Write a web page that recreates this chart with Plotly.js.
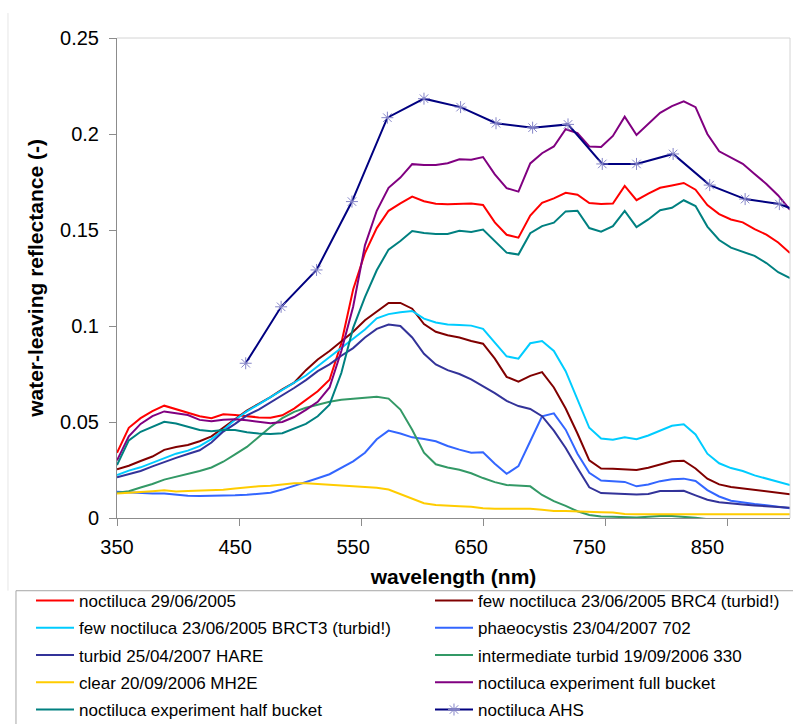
<!DOCTYPE html>
<html>
<head>
<meta charset="utf-8">
<script src="https://cdn.plot.ly/plotly-3.0.1.min.js"></script>
<style>html,body{margin:0;padding:0;background:#fff;overflow:hidden;}#chart{width:793px;height:724px;}</style>
</head>
<body>
<div id="chart"></div>
<script>
// wavelength grid (nm)
const wavelength = [350,360,370,380,390,400,410,420,430,440,450,460,470,480,490,500,510,520,530,540,
  550,560,570,580,590,600,610,620,630,640,650,660,670,680,690,700,710,720,730,740,
  750,760,770,780,790,800,810,820,830,840,850,860,870,880,890,900,910,920];

const noctiluca2906 = [0.034,0.047,0.052,0.0557,0.0585,0.0567,0.055,0.053,0.052,0.054,
  0.0536,0.053,0.0524,0.0522,0.0535,0.057,0.0616,0.066,0.072,0.091,
  0.119,0.138,0.151,0.160,0.1639,0.1674,0.165,0.1637,0.1634,0.1637,
  0.1638,0.163,0.154,0.1475,0.146,0.1575,0.1641,0.1665,0.1694,0.1684,
  0.164,0.1635,0.1638,0.173,0.1655,0.169,0.172,0.1732,0.1745,0.171,
  0.163,0.1583,0.1555,0.154,0.1505,0.1476,0.1435,0.138];

const fewBRC4 = [0.0254,0.0272,0.0297,0.032,0.0355,0.037,0.038,0.040,0.0425,0.047,
  0.0516,0.056,0.0595,0.063,0.067,0.0705,0.077,0.0826,0.087,0.092,
  0.097,0.103,0.1075,0.112,0.112,0.109,0.101,0.097,0.0952,0.094,
  0.0922,0.0908,0.083,0.0735,0.071,0.074,0.076,0.068,0.057,0.044,
  0.030,0.0258,0.0257,0.0255,0.025,0.0262,0.028,0.0295,0.0298,0.0258,
  0.0205,0.0175,0.0162,0.0154,0.0148,0.014,0.0133,0.0123];

const fewBRCT3 = [0.0224,0.0247,0.0264,0.0288,0.0315,0.0335,0.0351,0.0374,0.0411,0.0458,
  0.0512,0.0555,0.0592,0.063,0.0667,0.0704,0.0742,0.079,0.0837,0.0883,
  0.0934,0.0982,0.104,0.1062,0.1072,0.1078,0.1038,0.1018,0.1008,0.1005,
  0.1002,0.0985,0.0915,0.0842,0.083,0.091,0.0922,0.087,0.0765,0.062,
  0.047,0.0414,0.0408,0.042,0.041,0.043,0.0455,0.048,0.0488,0.0435,
  0.0335,0.0285,0.026,0.0245,0.0222,0.0205,0.019,0.0172];

const phaeocystis = [0.0137,0.0133,0.013,0.0128,0.0128,0.0122,0.0116,0.0115,0.0115,0.0116,
  0.0118,0.0121,0.0126,0.0132,0.0148,0.0167,0.0185,0.0207,0.0228,0.026,
  0.0295,0.034,0.041,0.0455,0.044,0.042,0.0412,0.040,0.0375,0.0356,
  0.034,0.0342,0.0283,0.023,0.027,0.040,0.053,0.0545,0.046,0.0335,
  0.0235,0.0195,0.019,0.0188,0.0165,0.0175,0.0192,0.0202,0.0205,0.0193,
  0.0145,0.0112,0.009,0.008,0.0073,0.0066,0.0058,0.0051];

const turbidHARE = [0.0212,0.0228,0.0245,0.0269,0.0293,0.0313,0.0333,0.0353,0.0393,0.045,
  0.049,0.0534,0.0565,0.0602,0.0636,0.0677,0.0718,0.0765,0.080,0.0845,
  0.0885,0.094,0.0985,0.1008,0.100,0.094,0.0855,0.080,0.077,0.075,
  0.0722,0.0688,0.065,0.061,0.0583,0.0568,0.053,0.0455,0.0365,0.026,
  0.016,0.013,0.0127,0.0125,0.0122,0.0125,0.014,0.0141,0.0142,0.0118,
  0.0095,0.0082,0.0075,0.007,0.0065,0.0061,0.0057,0.0054];

const intermediate1909 = [0.0132,0.0139,0.0159,0.0177,0.020,0.0215,0.0226,0.0245,0.0263,0.0293,
  0.0331,0.037,0.0422,0.0474,0.052,0.0553,0.0574,0.059,0.0605,0.0616,
  0.0622,0.0626,0.0632,0.0622,0.0565,0.046,0.034,0.028,0.0263,0.0251,
  0.0233,0.0208,0.0187,0.0172,0.017,0.0165,0.012,0.0088,0.0063,0.0035,
  0.0016,0.0008,0.0006,0.0004,0.0003,0.0006,0.001,0.001,0.0007,0.0001,
  -0.0006,-0.001,-0.0012,-0.0014,-0.0016,-0.0018,-0.0014,-0.0008];

const clear2009 = [0.0128,0.0131,0.0135,0.0139,0.0144,0.0138,0.014,0.0143,0.0145,0.0147,
  0.0154,0.0161,0.0165,0.0168,0.0176,0.0181,0.0181,0.0178,0.0172,0.0169,
  0.0166,0.0162,0.0158,0.0148,0.0125,0.0099,0.0077,0.0068,0.0063,0.0061,
  0.0058,0.0051,0.0048,0.0048,0.0048,0.0048,0.0043,0.0037,0.0036,0.0033,
  0.003,0.003,0.0028,0.0021,0.0019,0.0019,0.0019,0.0019,0.0019,0.0019,
  0.0019,0.0019,0.0019,0.0019,0.0019,0.0019,0.0019,0.0019];

const fullBucket = [0.030,0.0425,0.049,0.0531,0.0555,0.0547,0.0536,0.0511,0.0504,0.0512,
  0.0514,0.0509,0.050,0.0493,0.050,0.0526,0.0563,0.0605,0.068,0.087,
  0.110,0.142,0.160,0.172,0.1773,0.1843,0.1838,0.1838,0.1848,0.1868,
  0.1866,0.188,0.179,0.1718,0.170,0.1847,0.190,0.1935,0.2025,0.2005,
  0.1935,0.1932,0.199,0.209,0.1995,0.2055,0.211,0.2145,0.217,0.214,
  0.200,0.191,0.1878,0.1845,0.1792,0.174,0.168,0.1605];

const halfBucket = [0.0276,0.0404,0.0449,0.0476,0.0501,0.0492,0.0475,0.0458,0.0452,0.0458,
  0.0458,0.0447,0.044,0.0438,0.0442,0.0465,0.049,0.053,0.059,0.0755,
  0.099,0.115,0.129,0.1398,0.1443,0.1495,0.1484,0.1479,0.1479,0.1496,
  0.149,0.1502,0.1442,0.1382,0.1372,0.1483,0.152,0.1538,0.1597,0.160,
  0.151,0.1491,0.152,0.160,0.1515,0.1555,0.1603,0.1616,0.1655,0.1625,
  0.1518,0.1448,0.1408,0.1388,0.1365,0.1328,0.128,0.125];

// AHS airborne bands (nm) and reflectance
const ahsWavelength = [459,489,519,549,579,610,641,671,702,732,761,790,821,852,882,911,941];
const ahsReflectance = [0.0806,0.110,0.1292,0.1648,0.2085,0.2184,0.214,0.2056,0.2033,0.205,
  0.1844,0.1844,0.1896,0.1734,0.1661,0.1635,0.1565];

const xTickVals = [350,450,550,650,750,850];
const xTickText = ['350','450','550','650','750','850'];
const yTickVals = [0,0.05,0.1,0.15,0.2,0.25];
const yTickText = ['0','0.05','0.1','0.15','0.2','0.25'];

function spectrum(name, y, color, legendId) {
  return {x: wavelength, y: y, name: name, type: 'scatter', mode: 'lines',
    line: {color: color, width: 2}, legend: legendId, legendgroup: name};
}

const traces = [
  spectrum('noctiluca 29/06/2005', noctiluca2906, '#FF0000', 'legend'),
  spectrum('few noctiluca 23/06/2005 BRC4 (turbid!)', fewBRC4, '#800000', 'legend2'),
  spectrum('few noctiluca 23/06/2005 BRCT3 (turbid!)', fewBRCT3, '#00CCFF', 'legend'),
  spectrum('phaeocystis 23/04/2007 702', phaeocystis, '#3366FF', 'legend2'),
  spectrum('turbid 25/04/2007 HARE', turbidHARE, '#333399', 'legend'),
  spectrum('intermediate turbid 19/09/2006 330', intermediate1909, '#339966', 'legend2'),
  spectrum('clear 20/09/2006 MH2E', clear2009, '#FFCC00', 'legend'),
  spectrum('noctiluca experiment full bucket', fullBucket, '#800080', 'legend2'),
  spectrum('noctiluca experiment half bucket', halfBucket, '#008080', 'legend'),
  {x: ahsWavelength, y: ahsReflectance, name: 'noctiluca AHS', type: 'scatter', mode: 'lines+markers',
    line: {color: '#000080', width: 2}, legend: 'legend2', legendgroup: 'noctiluca AHS',
    marker: {symbol: 'asterisk-open', size: 10, color: '#8585C8', line: {width: 1, color: '#8585C8'}}}
];

const font = 'Liberation Sans, Arial, Helvetica, sans-serif';
const legendCommon = {orientation: 'v', xanchor: 'left', yanchor: 'top', y: -0.1354,
  font: {family: font, size: 17, color: '#000'}, bgcolor: 'rgba(0,0,0,0)', borderwidth: 0,
  itemwidth: 38, traceorder: 'grouped', tracegroupgap: 2.15};

const layout = {
  width: 793, height: 724,
  margin: {l: 117, r: 3, t: 38, b: 206, pad: 0, autoexpand: false},
  paper_bgcolor: '#fff', plot_bgcolor: '#fff',
  font: {family: font, color: '#000'},
  showlegend: true,
  xaxis: {
    range: [350, 920], autorange: false, automargin: false,
    tickmode: 'array', tickvals: xTickVals, ticktext: xTickText,
    ticks: '', ticklabelstandoff: 11,
    minor: {ticks: 'outside', tickmode: 'linear', tick0: 350, dtick: 103.43, ticklen: 7, tickwidth: 1, tickcolor: '#8c8c8c', showgrid: false},
    showline: true, linecolor: '#8c8c8c', linewidth: 1,
    showgrid: false, zeroline: false,
    tickfont: {family: font, size: 20, color: '#000'},
    title: {text: 'wavelength (nm)', font: {family: font, size: 21, weight: 'bold', color: '#000'}, standoff: 12}
  },
  yaxis: {
    range: [0, 0.25], autorange: false, automargin: false,
    tickmode: 'array', tickvals: yTickVals, ticktext: yTickText,
    ticks: 'outside', ticklen: 7, tickwidth: 1, tickcolor: '#8c8c8c', ticklabelstandoff: 6,
    showline: true, linecolor: '#8c8c8c', linewidth: 1,
    showgrid: false, zeroline: false,
    tickfont: {family: font, size: 20, color: '#000'},
    title: {text: 'water-leaving reflectance (-)', font: {family: font, size: 21, weight: 'bold', color: '#000'}, standoff: 10}
  },
  legend: Object.assign({}, legendCommon, {x: -0.12779}),
  legend2: Object.assign({}, legendCommon, {x: 0.46508}),
  shapes: [
    {type: 'line', xref: 'paper', yref: 'paper', x0: 0, x1: 1, y0: 1, y1: 1, line: {color: '#d4d4d4', width: 1}},
    {type: 'line', xref: 'paper', yref: 'paper', x0: 1, x1: 1, y0: 0, y1: 1, line: {color: '#d4d4d4', width: 1}},
    {type: 'rect', xref: 'paper', yref: 'paper', x0: -0.1501, x1: 1.03, y0: -0.1515, y1: -0.45, line: {color: '#a6a6a6', width: 1}, fillcolor: 'rgba(0,0,0,0)'},
    {type: 'line', xref: 'paper', yref: 'paper', x0: -0.162, x1: -0.162, y0: 1.052, y1: -0.1515, line: {color: '#e6e6e6', width: 1}}
  ]
};

Plotly.newPlot('chart', traces, layout, {displayModeBar: false, staticPlot: true});
</script>
</body>
</html>
